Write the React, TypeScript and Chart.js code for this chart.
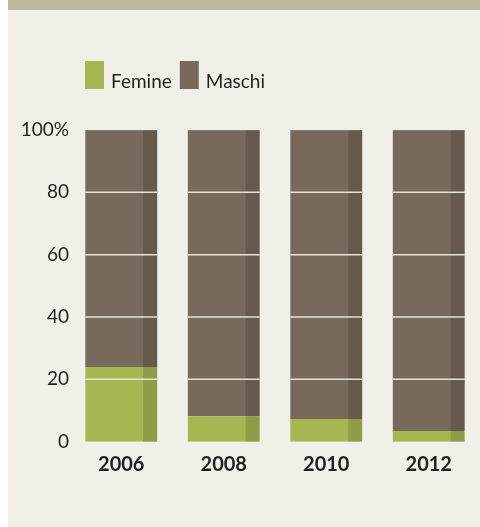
import React, { useEffect, useRef } from "react";
import { Chart, registerables } from "chart.js";

Chart.register(...registerables);

const years = ["2006", "2008", "2010", "2012"];
const femine = [24, 8.2, 7.3, 3.4];
const maschi = [76, 91.8, 92.7, 96.6];
const yTicks = [0, 20, 40, 60, 80, 100];
const seriesNames = ["Femine", "Maschi"];

const BG = "#f1f0e8";
const STRIP = "#bbb9a0";
const GREEN = "#a6b752";
const BROWN = "#77695b";
const TEXT = "#231f20";
const FONT = "Lato, 'Open Sans', sans-serif";

const decorPlugin = {
  id: "decor",
  beforeDraw(chart: any) {
    const { ctx, width, height } = chart;
    ctx.save();
    ctx.fillStyle = BG;
    ctx.fillRect(0, 0, width, height);
    ctx.fillStyle = STRIP;
    ctx.fillRect(0, 0, width, 10);
    // legend
    const colors = [GREEN, BROWN];
    let x = 77;
    ctx.font = `19px ${FONT}`;
    ctx.textBaseline = "alphabetic";
    ctx.textAlign = "left";
    seriesNames.forEach((name, i) => {
      ctx.fillStyle = colors[i];
      ctx.fillRect(x, 61, 19, 28);
      ctx.fillStyle = TEXT;
      ctx.fillText(name, x + 26, 88);
      x += 26 + ctx.measureText(name).width + 8;
    });
    ctx.restore();
  },
  afterDatasetsDraw(chart: any) {
    const { ctx } = chart;
    const yScale = chart.scales.y;
    ctx.save();
    // darker right stripe on each bar
    chart.data.datasets.forEach((_: any, di: number) => {
      const meta = chart.getDatasetMeta(di);
      meta.data.forEach((bar: any) => {
        const right = bar.x + bar.width / 2;
        const top = Math.min(bar.y, bar.base);
        const h = Math.abs(bar.base - bar.y);
        ctx.fillStyle = "rgba(0,0,0,0.14)";
        ctx.fillRect(right - 14, top, 14, h);
      });
    });
    // light top edge
    const metaTop = chart.getDatasetMeta(chart.data.datasets.length - 1);
    metaTop.data.forEach((bar: any) => {
      ctx.fillStyle = "rgba(255,255,255,0.12)";
      ctx.fillRect(bar.x - bar.width / 2, bar.y, bar.width, 1);
    });
    // gridlines over the bars
    ctx.strokeStyle = "#e6e2d6";
    ctx.lineWidth = 1.5;
    const bars = chart.getDatasetMeta(0).data;
    yTicks.forEach((v) => {
      if (v === 0 || v === 100) return;
      const y = yScale.getPixelForValue(v);
      bars.forEach((bar: any) => {
        ctx.beginPath();
        ctx.moveTo(bar.x - bar.width / 2, y);
        ctx.lineTo(bar.x + bar.width / 2, y);
        ctx.stroke();
      });
    });
    ctx.restore();
  },
};

export default function App() {
  const ref = useRef<HTMLCanvasElement | null>(null);
  useEffect(() => {
    if (!ref.current) return;
    const chart = new Chart(ref.current, {
      type: "bar",
      data: {
        labels: years,
        datasets: [
          { label: seriesNames[0], data: femine, backgroundColor: GREEN, borderWidth: 0 },
          { label: seriesNames[1], data: maschi, backgroundColor: BROWN, borderWidth: 0 },
        ],
      },
      options: {
        responsive: false,
        animation: false,
        layout: { padding: { top: 130, bottom: 45.3, left: 0, right: 0 } },
        datasets: {
          bar: { categoryPercentage: 1, barPercentage: 0.701 },
        },
        plugins: { legend: { display: false }, tooltip: { enabled: false } },
        scales: {
          x: {
            stacked: true,
            grid: { display: false, drawTicks: false },
            border: { display: false },
            ticks: {
              color: TEXT,
              font: { family: FONT, size: 20, weight: "bold" },
              padding: 11,
            },
            afterFit: (s: any) => {
              s.height = 40;
            },
          },
          y: {
            stacked: true,
            min: 0,
            max: 100,
            grid: { display: false, drawTicks: false },
            border: { display: false },
            afterBuildTicks: (s: any) => {
              s.ticks = yTicks.map((v) => ({ value: v }));
            },
            ticks: {
              color: TEXT,
              font: { family: FONT, size: 19 },
              padding: 1,
              callback: (v: any) => (v === 100 ? "100%" : String(v)),
            },
            afterFit: (s: any) => {
              s.width = 62;
            },
          },
        },
      },
      plugins: [decorPlugin],
    });
    return () => chart.destroy();
  }, []);
  return (
    <div style={{ position: "absolute", left: 8, top: 0, width: 472, height: 527 }}>
      <canvas ref={ref} width={472} height={527} style={{ display: "block", width: 472, height: 527 }} />
    </div>
  );
}
